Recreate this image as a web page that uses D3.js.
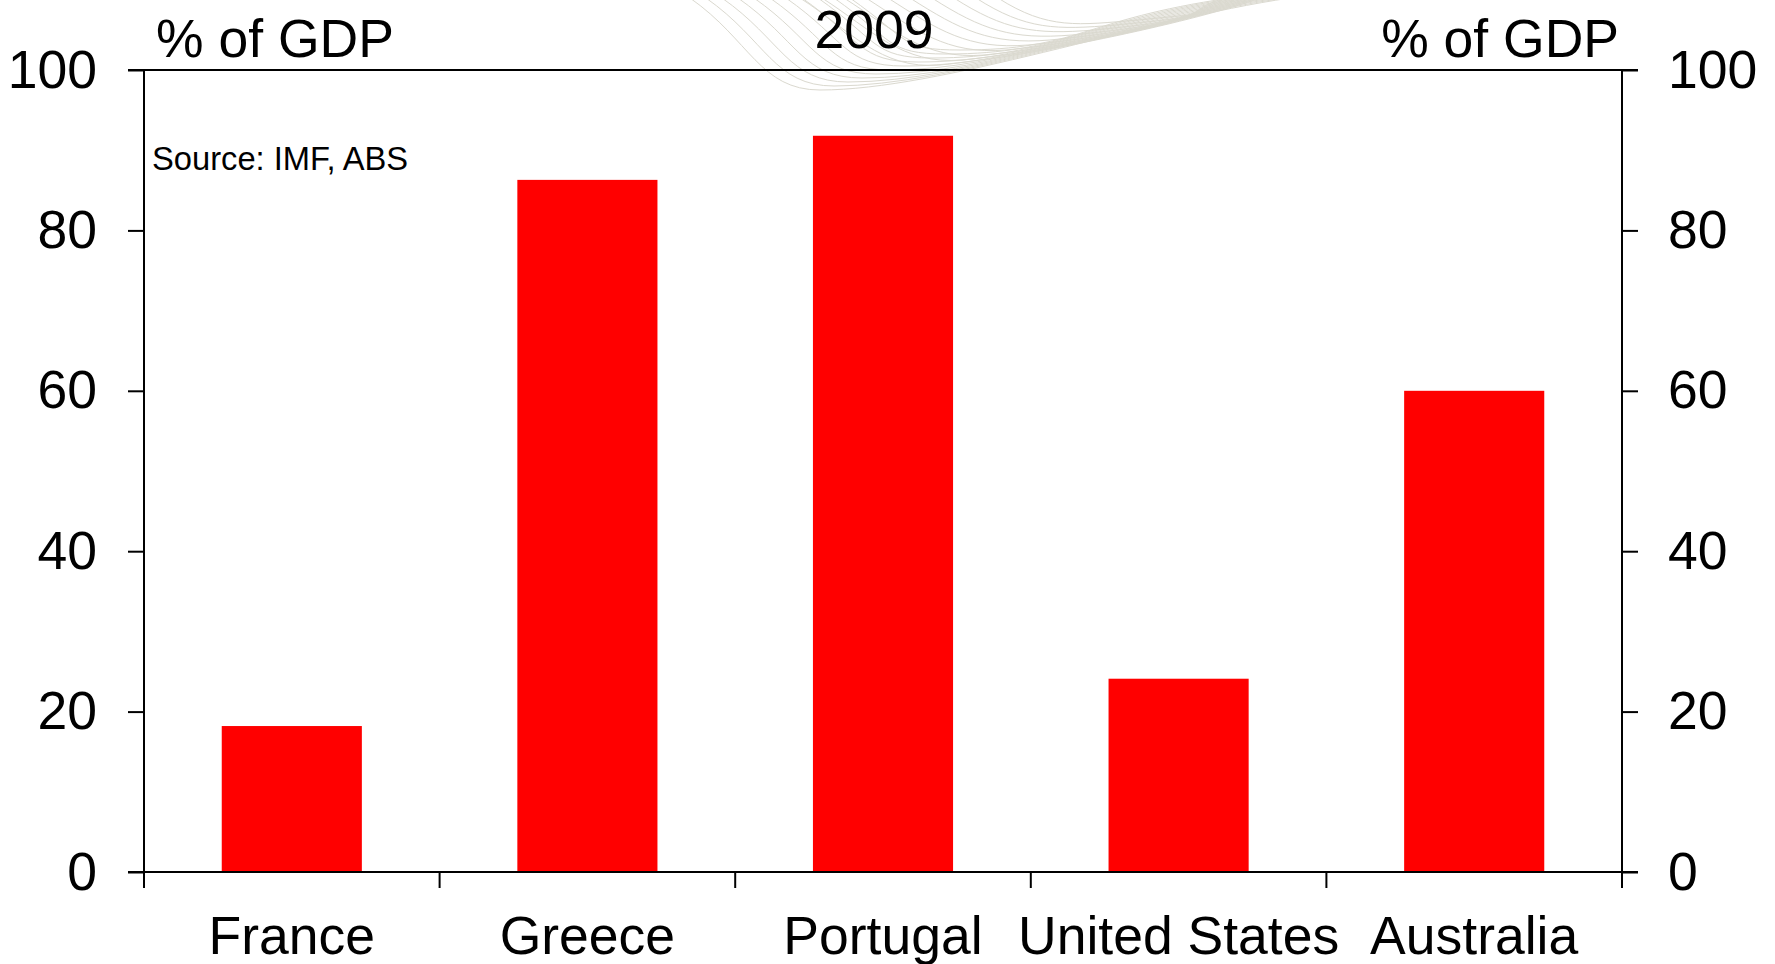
<!DOCTYPE html>
<html>
<head>
<meta charset="utf-8">
<script src="https://cdn.jsdelivr.net/npm/d3@7"></script>
<style>
  html, body { margin: 0; padding: 0; background: #fff; }
  svg { display: block; }
  text { font-family: "Liberation Sans", Arial, Helvetica, sans-serif; fill: #000; }
</style>
</head>
<body>
<svg id="chart" width="1775" height="964"></svg>
<script>
// ---- data ----
const categories = ["France", "Greece", "Portugal", "United States", "Australia"];
const values = [18.2, 86.3, 91.8, 24.1, 60.0];
const yTicks = [0, 20, 40, 60, 80, 100];
const title = "2009";
const unitLabel = "% of GDP";
const sourceNote = "Source: IMF, ABS";

(function () {
// ---- layout ----
const pLeft = 144, pRight = 1622, pTop = 70, pBottom = 872;

const svg = d3.select("#chart");

// decorative watermark curves (faint)
const deco = svg.append("g").attr("fill", "none").attr("stroke", "#d2d0c4").attr("stroke-width", 1).attr("opacity", 0.8);
for (let i = 0; i < 11; i++) {
  const p = d3.path();
  const x0 = 690 + i * 16, x1 = 820 + i * 14, ym = 90 - i * 4, x2 = 1290 - i * 6;
  p.moveTo(x0, -2);
  p.bezierCurveTo(x0 + 60, 40, x1 - 60, ym, x1, ym);
  p.bezierCurveTo(x1 + 120, ym, x2 - 150, 20, x2, -2);
  deco.append("path").attr("d", p.toString());
}
for (let i = 0; i < 10; i++) {
  const p = d3.path();
  const x0 = 880 + i * 22, ym = 70 - i * 5, x2 = 1260 - i * 4;
  p.moveTo(x0 - 80, -2);
  p.bezierCurveTo(x0 - 30, 30, x0, ym, x0 + 60, ym - 5);
  p.bezierCurveTo(x0 + 160, ym - 15, x2 - 60, 20, x2, -2);
  deco.append("path").attr("d", p.toString());
}

const x = d3.scaleBand().domain(categories).range([pLeft, pRight])
  .paddingInner(0.526).paddingOuter(0.263);
const xEdges = d3.scaleBand().domain(categories).range([pLeft, pRight]).padding(0);
const y = d3.scaleLinear().domain([0, 100]).range([pBottom, pTop]);

// bars
svg.append("g").selectAll("rect").data(values).join("rect")
  .attr("x", (d, i) => x(categories[i]))
  .attr("width", x.bandwidth())
  .attr("y", d => y(d))
  .attr("height", d => y(0) - y(d))
  .attr("fill", "#ff0000");

// y axes
const fontSize = 53.5;
const tickFont = 53.5;
const yLeft = d3.axisLeft(y).tickValues(yTicks).tickSize(16).tickPadding(31).tickFormat(d3.format("d"));
const yRight = d3.axisRight(y).tickValues(yTicks).tickSize(16).tickPadding(30).tickFormat(d3.format("d"));

const gl = svg.append("g").attr("transform", `translate(${pLeft},0)`).call(yLeft);
const gr = svg.append("g").attr("transform", `translate(${pRight},0)`).call(yRight);
[gl, gr].forEach(g => {
  g.select(".domain").remove();
  g.selectAll(".tick line").attr("stroke", "#000").attr("stroke-width", 2);
  g.selectAll(".tick text").attr("font-size", tickFont).attr("fill", "#000")
    .attr("font-family", '"Liberation Sans", Arial, sans-serif');
});

// frame lines
const frame = svg.append("g").attr("stroke", "#000").attr("stroke-width", 2);
frame.append("line").attr("x1", pLeft).attr("x2", pLeft).attr("y1", pTop).attr("y2", pBottom + 16);
frame.append("line").attr("x1", pRight).attr("x2", pRight).attr("y1", pTop).attr("y2", pBottom + 16);
frame.append("line").attr("x1", pLeft - 16).attr("x2", pRight + 16).attr("y1", y(100)).attr("y2", y(100));
frame.append("line").attr("x1", pLeft - 16).attr("x2", pRight + 16).attr("y1", y(0)).attr("y2", y(0));

// category boundary ticks
const edges = categories.map(c => xEdges(c)).concat([pRight]);
svg.append("g").selectAll("line").data(edges).join("line")
  .attr("x1", d => d).attr("x2", d => d)
  .attr("y1", pBottom).attr("y2", pBottom + 16)
  .attr("stroke", "#000").attr("stroke-width", 2);

// category labels
svg.append("g").selectAll("text").data(categories).join("text")
  .attr("x", d => x(d) + x.bandwidth() / 2)
  .attr("y", 954)
  .attr("text-anchor", "middle")
  .attr("font-size", fontSize)
  .text(d => d);

// titles
svg.append("text").attr("x", 156).attr("y", 57).attr("font-size", fontSize).text(unitLabel);
svg.append("text").attr("x", 1619).attr("y", 57).attr("text-anchor", "end").attr("font-size", fontSize).text(unitLabel);
svg.append("text").attr("x", 874).attr("y", 48).attr("text-anchor", "middle").attr("font-size", fontSize).text(title);
svg.append("text").attr("x", 152).attr("y", 170).attr("font-size", 32.7).text(sourceNote);
})();
</script>
</body>
</html>
